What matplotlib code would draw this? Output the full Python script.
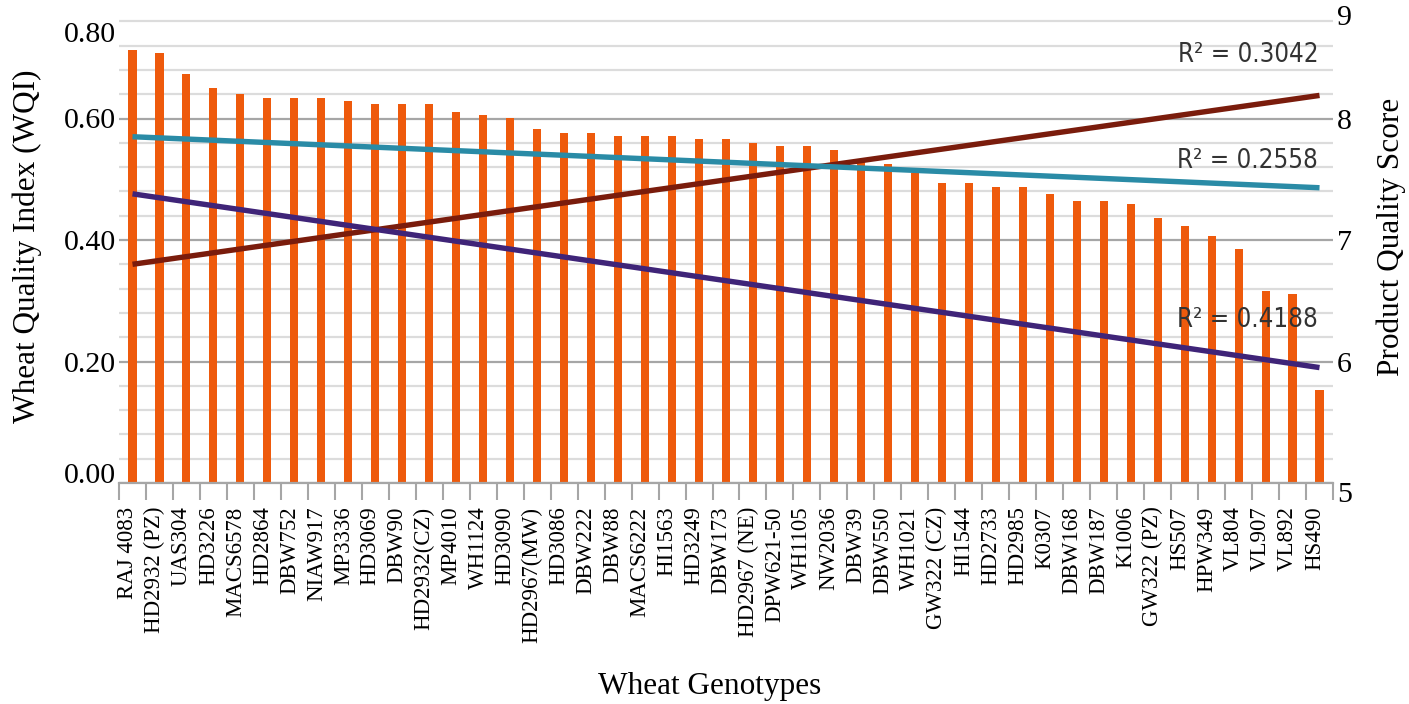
'''
Wheat quality index per genotype (bars) with the product quality
score trend lines on a second axis
'''

import numpy as np
import matplotlib.pyplot as plt
import matplotlib.transforms as mtransforms

# genotypes, in the order they are plotted
GENOTYPES = ["RAJ 4083", "HD2932 (PZ)", "UAS304", "HD3226", "MACS6578",
             "HD2864", "DBW752", "NIAW917", "MP3336", "HD3069", "DBW90",
             "HD2932(CZ)", "MP4010", "WH1124", "HD3090", "HD2967(MW)",
             "HD3086", "DBW222", "DBW88", "MACS6222", "HI1563", "HD3249",
             "DBW173", "HD2967 (NE)", "DPW621-50", "WH1105", "NW2036",
             "DBW39", "DBW550", "WH1021", "GW322 (CZ)", "HI1544", "HD2733",
             "HD2985", "K0307", "DBW168", "DBW187", "K1006", "GW322 (PZ)",
             "HS507", "HPW349", "VL804", "VL907", "VL892", "HS490"]

# wheat quality index (left axis)
WQI = [0.713, 0.708, 0.673, 0.650, 0.640, 0.634, 0.634, 0.634, 0.629,
       0.624, 0.624, 0.624, 0.611, 0.606, 0.601, 0.583, 0.576, 0.576,
       0.571, 0.571, 0.571, 0.566, 0.566, 0.560, 0.555, 0.555, 0.548,
       0.528, 0.525, 0.510, 0.494, 0.494, 0.487, 0.487, 0.476, 0.464,
       0.464, 0.459, 0.436, 0.423, 0.407, 0.385, 0.316, 0.311, 0.153]

# linear trend lines of product quality score (right axis),
# value at the first and at the last genotype
TREND_R2 = ["R² = 0.3042", "R² = 0.2558", "R² = 0.4188"]
TREND_START = [6.80, 7.85, 7.38]
TREND_END = [8.19, 7.43, 5.95]
TREND_COLORS = ["#7A1C0C", "#2A8BA6", "#3F2478"]
R2_LABEL_Y = [8.52, 7.65, 6.34]

WQI_TICKS = [0.0, 0.2, 0.4, 0.6, 0.8]
WQI_TICK_LABELS = ["0.00", "0.20", "0.40", "0.60", "0.80"]
SCORE_TICKS = [5, 6, 7, 8, 9]

SERIF = "Liberation Serif"
BAR_COLOR = "#EE5A0C"


def shift_label(fig, label, dx_px, dy_px):
    ''' moves one tick label by a few pixels '''
    offset = mtransforms.ScaledTranslation(dx_px / 100, dy_px / 100,
                                           fig.dpi_scale_trans)
    label.set_transform(label.get_transform() + offset)


def main():
    fig = plt.figure(figsize=(14.09, 7.04), dpi=100)
    # top of the axes sits just above the picture, like the cropped original
    ax = fig.add_axes([119 / 1409, 221 / 704, 1214 / 1409, 486 / 704])

    pos = np.arange(len(GENOTYPES))
    ax.bar(pos, WQI, width=0.3, color=BAR_COLOR, zorder=3)

    ax.set_xlim(-0.5, len(GENOTYPES) - 0.5)
    ax.set_ylim(0, 0.8)

    # grid: dark lines every 0.2, light ones every 0.04
    ax.set_yticks(WQI_TICKS)
    ax.set_yticklabels(WQI_TICK_LABELS, fontsize=21.5, family=SERIF)
    ax.set_yticks(np.arange(0.04, 0.8, 0.04), minor=True)
    ax.grid(axis="y", which="major", color="#A6A6A6", lw=1.6, zorder=0)
    ax.grid(axis="y", which="minor", color="#DCDCDC", lw=1.6, zorder=0)
    ax.tick_params(axis="y", which="both", length=0, pad=2)

    # x ticks sit between categories, labels in the middle
    ax.set_xticks(pos)
    ax.set_xticklabels(GENOTYPES, rotation=90, fontsize=16.5, family=SERIF,
                       va="top", ha="center")
    ax.set_xticks(np.arange(-0.5, len(GENOTYPES), 1), minor=True)
    ax.tick_params(axis="x", which="major", length=0, pad=17)
    ax.tick_params(axis="x", which="minor", length=12, width=1.5,
                   color="#A6A6A6")

    for side in ["left", "right", "top"]:
        ax.spines[side].set_visible(False)
    ax.spines["bottom"].set_color("#A6A6A6")
    ax.spines["bottom"].set_linewidth(1.6)
    ax.spines["bottom"].set_zorder(4)

    ax.set_ylabel("Wheat Quality Index (WQI)", fontsize=22.5, family=SERIF,
                  ha="center", va="center")
    ax.yaxis.set_label_coords(-0.0758, 0.488)
    ax.set_xlabel("Wheat Genotypes", fontsize=22.5, family=SERIF,
                  ha="center", va="center")
    ax.xaxis.set_label_coords(0.4864, -0.4177)

    # second axis for the product quality score trend lines
    ax2 = ax.twinx()
    ax2.set_ylim(5, 9)
    ends = [pos[0], pos[-1]]
    for i in range(len(TREND_R2)):
        ax2.plot(ends, [TREND_START[i], TREND_END[i]],
                 color=TREND_COLORS[i], lw=3.9, solid_capstyle="butt")
        ax2.text(len(GENOTYPES) - 1.05, R2_LABEL_Y[i], TREND_R2[i],
                 ha="right", va="center", fontsize=18.5, color="#333333",
                 family="DejaVu Sans", fontstretch="condensed")

    ax2.set_yticks(SCORE_TICKS)
    ax2.set_yticklabels([str(t) for t in SCORE_TICKS], fontsize=21.5,
                        family=SERIF)
    ax2.tick_params(axis="y", length=0, pad=3)
    for side in ["left", "right", "top", "bottom"]:
        ax2.spines[side].set_visible(False)
    ax2.set_ylabel("Product Quality Score", fontsize=22.5, family=SERIF,
                   ha="center", va="center", rotation=90)
    ax2.yaxis.set_label_coords(1.0478, 0.506)

    # nudge the labels the way the original has them
    for lbl in ax.get_xticklabels():
        shift_label(fig, lbl, -5, 0)
    left_lbls = ax.get_yticklabels()
    shift_label(fig, left_lbls[0], 0, 10)
    shift_label(fig, left_lbls[-1], 0, -35)
    right_lbls = ax2.get_yticklabels()
    shift_label(fig, right_lbls[0], 0, -9)
    shift_label(fig, right_lbls[-1], 0, -18)

    fig.savefig("out.png", dpi=100)


main()
